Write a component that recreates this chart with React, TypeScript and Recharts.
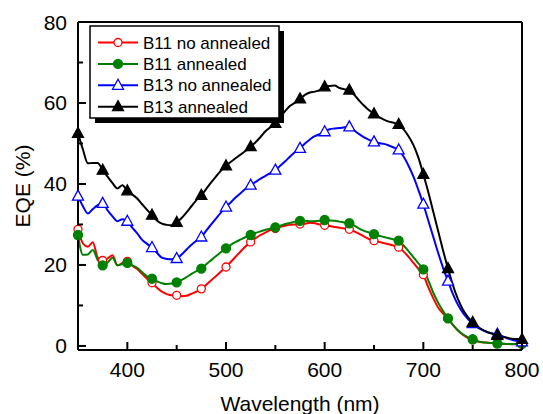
import { Line, LineChart, XAxis, YAxis, ReferenceLine, Legend } from 'recharts';

const wavelength = [
  350, 355, 360, 365, 370, 375, 380, 385, 390, 395,
  400, 405, 410, 415, 420, 425, 430, 435, 440, 445,
  450, 455, 460, 465, 470, 475, 480, 485, 490, 495,
  500, 505, 510, 515, 520, 525, 530, 535, 540, 545,
  550, 555, 560, 565, 570, 575, 580, 585, 590, 595,
  600, 605, 610, 615, 620, 625, 630, 635, 640, 645,
  650, 655, 660, 665, 670, 675, 680, 685, 690, 695,
  700, 705, 710, 715, 720, 725, 730, 735, 740, 745,
  750, 755, 760, 765, 770, 775, 780, 785, 790, 795,
  800,
];

const b11NoAnnealed = [
  28.8, 25.3, 24.5, 25.6, 21.8, 21.1, 21.6, 22.4, 19.9, 20.5,
  20.9, 19.8, 19.0, 17.8, 16.6, 15.6, 14.4, 13.4, 12.8, 12.5,
  12.5, 12.3, 12.4, 12.9, 13.4, 14.1, 15.1, 16.2, 17.3, 18.4,
  19.5, 20.8, 22.1, 23.4, 24.6, 25.7, 26.6, 27.4, 28.0, 28.6,
  29.0, 29.4, 29.7, 29.9, 30.0, 30.1, 30.2, 30.4, 30.3, 30.0,
  29.8, 29.6, 29.4, 29.2, 29.0, 28.8, 28.3, 27.7, 27.0, 26.4,
  26.0, 25.7, 25.4, 25.1, 24.8, 24.4, 23.3, 22.0, 20.5, 19.0,
  17.6, 14.5, 11.8, 9.5, 8.0, 6.8, 5.2, 3.8, 2.8, 2.0,
  1.5, 1.1, 0.9, 0.8, 0.7, 0.6, 0.5, 0.5, 0.4, 0.4,
  0.4,
];

const b11Annealed = [
  27.4, 22.5, 22.6, 23.7, 21.2, 19.9, 20.6, 21.8, 19.9, 20.2,
  20.5, 19.9, 19.3, 18.2, 17.2, 16.6, 16.0, 15.5, 15.3, 15.4,
  15.7, 16.3, 17.0, 17.8, 18.5, 19.1, 20.2, 21.2, 22.2, 23.2,
  24.1, 25.0, 25.7, 26.3, 26.9, 27.4, 27.9, 28.3, 28.7, 29.0,
  29.3, 29.7, 30.1, 30.4, 30.7, 30.9, 30.9, 30.8, 30.8, 30.9,
  31.1, 31.0, 30.9, 30.7, 30.5, 30.3, 29.7, 29.0, 28.4, 28.0,
  27.6, 27.2, 26.9, 26.6, 26.3, 26.0, 24.8, 23.4, 21.9, 20.4,
  18.9, 16.2, 13.2, 10.7, 8.6, 6.8, 5.2, 3.9, 2.9, 2.2,
  1.65, 1.2, 0.9, 0.8, 0.7, 0.6, 0.6, 0.5, 0.5, 0.5,
  0.5,
];

const b13NoAnnealed = [
  37.0, 34.5, 32.7, 33.8, 34.8, 35.2, 33.5, 32.0, 30.8, 31.3,
  30.8, 29.2, 27.8, 26.2, 25.2, 24.3, 23.0, 21.8, 21.5, 21.4,
  21.6, 22.6, 23.8, 25.0, 26.0, 26.9, 28.5, 30.0, 31.5, 33.0,
  34.3, 35.5, 36.7, 37.8, 38.8, 39.7, 40.5, 41.3, 42.0, 42.7,
  43.4, 44.5, 45.6, 46.8, 47.9, 48.8, 50.0, 51.0, 51.8, 52.3,
  52.9, 53.5, 53.7, 53.8, 54.0, 54.1, 53.2, 52.3, 51.5, 50.9,
  50.4, 50.1, 49.9, 49.5, 49.0, 48.4, 46.8, 44.5, 41.8, 38.5,
  35.0, 31.0, 27.0, 23.0, 19.3, 16.0, 12.8, 10.2, 8.2, 6.7,
  5.5, 4.6, 3.9, 3.4, 3.1, 2.9, 2.4, 1.9, 1.5, 1.2,
  1.0,
];

const b13Annealed = [
  52.5, 48.5, 45.1, 45.2, 45.2, 43.4, 41.8, 40.2, 38.9, 39.7,
  38.3, 37.4, 36.4, 35.0, 33.6, 32.3, 31.0, 30.2, 29.9, 29.8,
  30.5, 31.6, 33.0, 34.5, 36.0, 37.2, 38.8, 40.4, 41.9, 43.3,
  44.5, 45.5, 46.4, 47.3, 48.2, 49.2, 50.3, 51.6, 53.0, 54.0,
  55.0, 56.5, 58.0, 59.3, 60.1, 61.0, 62.0, 62.6, 62.8, 63.2,
  64.0, 64.2, 64.3, 63.7, 63.4, 63.2, 62.0, 60.6, 59.3, 58.2,
  57.3, 56.5, 55.9, 55.4, 55.1, 54.7, 53.5, 51.8, 49.6, 46.5,
  42.4, 38.0, 33.2, 28.4, 23.6, 19.1, 15.0, 11.6, 9.0, 7.2,
  5.8, 4.8, 4.0, 3.4, 3.0, 2.6, 2.3, 2.0, 1.8, 1.7,
  1.6,
];

const xTicks = [400, 450, 500, 550, 600, 650, 700, 750, 800];
const yTicks = [0, 10, 20, 30, 40, 50, 60, 70, 80];

const FONT = '"Liberation Sans", Arial, sans-serif';

type Shape = 'circle' | 'triangle';

const series: { key: string; name: string; color: string; shape: Shape; filled: boolean }[] = [
  { key: 'b11n', name: 'B11 no annealed', color: '#ff0000', shape: 'circle', filled: false },
  { key: 'b11a', name: 'B11 annealed', color: '#008000', shape: 'circle', filled: true },
  { key: 'b13n', name: 'B13 no annealed', color: '#0000ff', shape: 'triangle', filled: false },
  { key: 'b13a', name: 'B13 annealed', color: '#000000', shape: 'triangle', filled: true },
];

const data = wavelength.map((wl, i) => ({
  wl,
  b11n: b11NoAnnealed[i],
  b11a: b11Annealed[i],
  b13n: b13NoAnnealed[i],
  b13a: b13Annealed[i],
}));

const Marker = ({ cx, cy, color, shape, filled }: { cx: number; cy: number; color: string; shape: Shape; filled: boolean }) => {
  const fill = filled ? color : '#fff';
  if (shape === 'circle') {
    return <circle cx={cx} cy={cy} r={filled ? 4.5 : 4} fill={fill} stroke={color} strokeWidth={1.3} />;
  }
  const pts = `${cx},${cy - 6} ${cx - 5.5},${cy + 4} ${cx + 5.5},${cy + 4}`;
  return <polygon points={pts} fill={fill} stroke={color} strokeWidth={1.3} />;
};

const makeDot = (s: (typeof series)[number]) => (props: any) => {
  const { cx, cy, payload, index } = props;
  if (payload.wl % 25 !== 0) return <g key={`d-${s.key}-${index}`} />;
  return (
    <g key={`d-${s.key}-${index}`}>
      <Marker cx={cx} cy={cy} color={s.color} shape={s.shape} filled={s.filled} />
    </g>
  );
};

const XTick = (props: any) => {
  const { x, y, payload } = props;
  const major = payload.value % 100 === 0;
  return (
    <g>
      <line x1={x} y1={y} x2={x} y2={y - (major ? 8 : 5)} stroke="#000" strokeWidth={2} />
      {major && (
        <text x={x} y={y + 27} textAnchor="middle" fontSize={21} fontFamily={FONT} fill="#000">
          {payload.value}
        </text>
      )}
    </g>
  );
};

const YTick = (props: any) => {
  const { x, y, payload } = props;
  const major = payload.value % 20 === 0;
  return (
    <g>
      <line x1={x} y1={y} x2={x + (major ? 8 : 5)} y2={y} stroke="#000" strokeWidth={2} />
      {major && (
        <text x={x - 11} y={y + 7.5} textAnchor="end" fontSize={21} fontFamily={FONT} fill="#000">
          {payload.value}
        </text>
      )}
    </g>
  );
};

const LegendBox = () => (
  <svg width={200} height={104} style={{ display: 'block' }}>
    <rect x={6} y={6} width={189} height={92} fill="#000" />
    <rect x={1} y={1} width={189} height={92} fill="#fff" stroke="#000" strokeWidth={1.5} />
    {series.map((s, i) => {
    const cy = 17.5 + i * 21.4;
      return (
        <g key={s.key}>
          <line x1={9} y1={cy} x2={49} y2={cy} stroke={s.color} strokeWidth={2} />
          <Marker cx={29} cy={cy} color={s.color} shape={s.shape} filled={s.filled} />
          <text x={54} y={cy + 6} fontSize={17} fontFamily={FONT} fill="#000">
            {s.name}
          </text>
        </g>
      );
    })}
  </svg>
);

export default function App() {
  return (
    <div style={{ position: 'absolute', left: 0, top: 0, background: '#fff' }}>
      <LineChart width={543} height={414} data={data} margin={{ top: 22, right: 21, bottom: 34, left: 18 }}>
        <XAxis
          dataKey="wl"
          type="number"
          domain={[350, 800]}
          ticks={xTicks}
          interval={0}
          tickSize={0}
          tickMargin={0}
          height={30}
          axisLine={{ stroke: '#000', strokeWidth: 2 }}
          tickLine={false}
          tick={<XTick />}
          label={(p: any) => (
            <text
              x={p.viewBox.x + p.viewBox.width / 2}
              y={p.viewBox.y + 61}
              textAnchor="middle"
              fontSize={21}
              fontFamily={FONT}
              fill="#000"
            >
              Wavelength (nm)
            </text>
          )}
        />
        <YAxis
          type="number"
          domain={[-1, 80]}
          ticks={yTicks}
          interval={0}
          allowDataOverflow
          tickSize={0}
          tickMargin={0}
          width={60}
          axisLine={{ stroke: '#000', strokeWidth: 2 }}
          tickLine={false}
          tick={<YTick />}
          label={(p: any) => {
            const cx = p.viewBox.x + 4;
            const cy = p.viewBox.y + p.viewBox.height / 2;
            return (
              <text
                x={cx}
                y={cy}
                transform={`rotate(-90 ${cx} ${cy})`}
                textAnchor="middle"
                dominantBaseline="central"
                fontSize={21}
                fontFamily={FONT}
                fill="#000"
              >
                EQE (%)
              </text>
            );
          }}
        />
        <ReferenceLine y={80} stroke="#000" strokeWidth={2} />
        <ReferenceLine x={800} stroke="#000" strokeWidth={2} />
        {series.map((s) => (
          <Line
            key={s.key}
            dataKey={s.key}
            name={s.name}
            type="monotone"
            stroke={s.color}
            strokeWidth={2}
            dot={makeDot(s)}
            activeDot={false}
            isAnimationActive={false}
          />
        ))}
        <Legend
          layout="horizontal"
          verticalAlign="middle"
          align="center"
          wrapperStyle={{ top: 25, left: 89, width: 200, height: 104 }}
          content={() => <LegendBox />}
        />
      </LineChart>
    </div>
  );
}
